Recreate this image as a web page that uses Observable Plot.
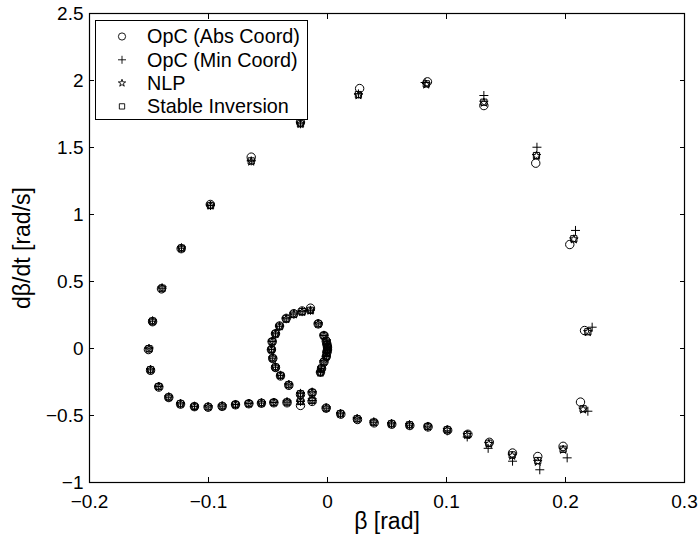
<!DOCTYPE html>
<html>
<head>
<meta charset="utf-8">
<script src="https://cdn.jsdelivr.net/npm/d3@7"></script>
<script src="https://cdn.jsdelivr.net/npm/@observablehq/plot@0.6"></script>
<style>
  html, body { margin: 0; padding: 0; background: white; }
  #wrap { position: relative; width: 699px; height: 535px; }
  #legend { position: absolute; left: 95px; top: 20px; }
</style>
</head>
<body>
<div id="wrap"></div>
<script>
// ---------- data ----------
const seriesNames = ["OpC (Abs Coord)", "OpC (Min Coord)", "NLP", "Stable Inversion"];
const xTicks = [-0.2, -0.1, 0, 0.1, 0.2, 0.3];
const yTicks = [-1, -0.5, 0, 0.5, 1, 1.5, 2, 2.5];
const xLabel = "β [rad]";
const yLabel = "dβ/dt [rad/s]";

// Stable Inversion
const siX = [0.000, 0.000, -0.0005, -0.0005, -0.001, -0.001, -0.003, -0.0078, -0.0143, -0.0213, -0.0283, -0.0347, -0.0403, -0.0437, -0.0465, -0.0471, -0.046, -0.0437, -0.0395, -0.0325, -0.0227, -0.003, -0.005, -0.0059, -0.0129, -0.0129, -0.0227, -0.034, -0.0451, -0.0555, -0.0661, -0.0773, -0.0885, -0.1003, -0.1118, -0.1235, -0.1334, -0.1418, -0.1487, -0.150, -0.147, -0.139, -0.1227, -0.0983, -0.0641, -0.0227, 0.026, 0.083, 0.1314, 0.1756, 0.207, 0.2188, 0.2148, 0.198, 0.1767, 0.1552, 0.1356, 0.1174, 0.1006, 0.0843, 0.0689, 0.0538, 0.0389, 0.0249, 0.0109, -0.0011];
const siY = [0.010, -0.010, 0.030, -0.030, 0.055, -0.060, 0.097, 0.184, 0.285, 0.275, 0.257, 0.222, 0.166, 0.110, 0.052, -0.007, -0.072, -0.139, -0.201, -0.271, -0.338, -0.100, -0.147, -0.177, -0.328, -0.388, -0.395, -0.400, -0.403, -0.407, -0.411, -0.418, -0.430, -0.436, -0.432, -0.413, -0.363, -0.284, -0.159, -0.002, 0.204, 0.450, 0.749, 1.067, 1.400, 1.677, 1.895, 1.975, 1.838, 1.440, 0.819, 0.125, -0.450, -0.752, -0.836, -0.794, -0.707, -0.642, -0.607, -0.582, -0.570, -0.562, -0.550, -0.525, -0.487, -0.445];

// NLP
const nlpX = [0.000, 0.000, -0.0005, -0.0005, -0.001, -0.001, -0.003, -0.0078, -0.0143, -0.0213, -0.0283, -0.0347, -0.0403, -0.0437, -0.0465, -0.0471, -0.046, -0.0437, -0.0395, -0.0325, -0.0227, -0.003, -0.005, -0.0059, -0.0129, -0.0129, -0.0227, -0.034, -0.0451, -0.0555, -0.0661, -0.0773, -0.0885, -0.1003, -0.1118, -0.1235, -0.1334, -0.1418, -0.1487, -0.150, -0.147, -0.139, -0.1227, -0.0983, -0.0641, -0.0227, 0.026, 0.083, 0.1314, 0.1756, 0.207, 0.2188, 0.2148, 0.198, 0.1767, 0.1552, 0.1356, 0.1174, 0.1006, 0.0843, 0.0689, 0.0538, 0.0389, 0.0249, 0.0109, -0.0011];
const nlpY = [0.010, -0.010, 0.030, -0.030, 0.055, -0.060, 0.097, 0.184, 0.283, 0.273, 0.255, 0.220, 0.165, 0.110, 0.052, -0.007, -0.072, -0.139, -0.201, -0.271, -0.338, -0.100, -0.147, -0.180, -0.330, -0.385, -0.395, -0.400, -0.403, -0.407, -0.411, -0.418, -0.430, -0.436, -0.432, -0.413, -0.363, -0.284, -0.159, -0.002, 0.204, 0.450, 0.749, 1.067, 1.395, 1.677, 1.890, 1.970, 1.835, 1.438, 0.815, 0.123, -0.455, -0.755, -0.845, -0.800, -0.712, -0.645, -0.607, -0.582, -0.570, -0.562, -0.550, -0.525, -0.487, -0.445];

// OpC (Abs Coord)
const absX = [0.000, 0.000, -0.0005, -0.0005, -0.001, -0.001, -0.003, -0.0078, -0.0143, -0.0213, -0.0283, -0.0347, -0.0403, -0.0437, -0.0465, -0.0471, -0.046, -0.0437, -0.0395, -0.0325, -0.0227, -0.003, -0.005, -0.0059, -0.0129, -0.0129, -0.0227, -0.034, -0.0451, -0.0555, -0.0661, -0.0773, -0.0885, -0.1003, -0.1118, -0.1235, -0.1334, -0.1418, -0.1487, -0.1505, -0.147, -0.1395, -0.123, -0.0985, -0.0641, -0.0227, 0.027, 0.084, 0.1314, 0.1750, 0.2036, 0.2160, 0.2126, 0.198, 0.1767, 0.1555, 0.1360, 0.1180, 0.1010, 0.0845, 0.0692, 0.0540, 0.0392, 0.0252, 0.0112, -0.0011];
const absY = [0.010, -0.010, 0.030, -0.030, 0.055, -0.060, 0.097, 0.184, 0.301, 0.280, 0.260, 0.225, 0.168, 0.110, 0.050, -0.010, -0.075, -0.142, -0.205, -0.275, -0.343, -0.100, -0.150, -0.177, -0.330, -0.395, -0.425, -0.405, -0.405, -0.408, -0.412, -0.420, -0.432, -0.438, -0.434, -0.415, -0.366, -0.288, -0.163, -0.008, 0.200, 0.445, 0.745, 1.075, 1.428, 1.690, 1.940, 1.990, 1.813, 1.383, 0.776, 0.134, -0.400, -0.730, -0.806, -0.780, -0.700, -0.640, -0.610, -0.585, -0.575, -0.565, -0.555, -0.530, -0.490, -0.445];

// OpC (Min Coord)
const minX = [0.000, 0.000, -0.0005, -0.0005, -0.001, -0.001, -0.003, -0.0078, -0.0143, -0.0213, -0.0283, -0.0347, -0.0403, -0.0437, -0.0465, -0.0471, -0.046, -0.0437, -0.0395, -0.0325, -0.0227, -0.003, -0.005, -0.0059, -0.0129, -0.0129, -0.0227, -0.034, -0.0451, -0.0555, -0.0661, -0.0773, -0.0885, -0.1003, -0.1118, -0.1235, -0.1334, -0.1418, -0.1487, -0.150, -0.147, -0.139, -0.1227, -0.0983, -0.0641, -0.0227, 0.026, 0.082, 0.1314, 0.1760, 0.2084, 0.2224, 0.2188, 0.2014, 0.1784, 0.1555, 0.1350, 0.1174, 0.1006, 0.0843, 0.0689, 0.0538, 0.0389, 0.0249, 0.0109, -0.0011];
const minY = [0.010, -0.010, 0.030, -0.030, 0.055, -0.060, 0.097, 0.184, 0.285, 0.275, 0.257, 0.222, 0.166, 0.110, 0.052, -0.007, -0.072, -0.139, -0.201, -0.271, -0.335, -0.100, -0.147, -0.177, -0.325, -0.388, -0.395, -0.400, -0.403, -0.407, -0.411, -0.418, -0.430, -0.436, -0.432, -0.413, -0.363, -0.284, -0.159, -0.002, 0.204, 0.450, 0.749, 1.067, 1.400, 1.677, 1.900, 1.985, 1.888, 1.502, 0.881, 0.159, -0.468, -0.816, -0.905, -0.841, -0.745, -0.660, -0.615, -0.585, -0.572, -0.562, -0.550, -0.525, -0.487, -0.445];

// ---------- build ----------
function rows(xs, ys, name) { return xs.map((x, i) => ({x, y: ys[i], name})); }
const absData = rows(absX, absY, seriesNames[0]);
const minData = rows(minX, minY, seriesNames[1]);
const nlpData = rows(nlpX, nlpY, seriesNames[2]);
const siData  = rows(siX, siY, seriesNames[3]);

const plusSym = {
  draw(ctx, size) {
    const r = Math.sqrt(size / Math.PI);
    ctx.moveTo(-r, 0); ctx.lineTo(r, 0);
    ctx.moveTo(0, -r); ctx.lineTo(0, r);
  }
};

const fmt = d => (d < 0 ? "\u2212" : "") + String(Math.abs(+d.toFixed(2)));
const font = '"Liberation Sans", Arial, Helvetica, sans-serif';
const dotOpts = {x: "x", y: "y", fill: "none", stroke: "black", strokeWidth: 1};
const rAbs = 4.2, rMin = 4.5, rNlp = 2.7, rSi = 3.5;

const chart = Plot.plot({
  width: 699,
  height: 535,
  marginLeft: 89,
  marginRight: 15,
  marginTop: 13,
  marginBottom: 53,
  style: {fontFamily: font, fontSize: "19px", color: "black", background: "white"},
  x: {domain: [-0.2, 0.3], label: null},
  y: {domain: [-1, 2.5], label: null},
  marks: [
    Plot.axisX(xTicks, {anchor: "bottom", tickSize: -5, tickPadding: 17, tickFormat: fmt, fontSize: 19, label: null}),
    Plot.axisX(xTicks, {anchor: "top", tickSize: -5, tickFormat: () => "", label: null}),
    Plot.axisY(yTicks, {anchor: "left", tickSize: -5, tickPadding: 11, tickFormat: fmt, fontSize: 19, label: null}),
    Plot.axisY(yTicks, {anchor: "right", tickSize: -5, tickFormat: () => "", label: null}),
    Plot.frame({stroke: "black", strokeWidth: 1.2}),
    Plot.dot(absData, {...dotOpts, symbol: "circle", r: rAbs}),
    Plot.dot(minData, {...dotOpts, symbol: plusSym, r: rMin}),
    Plot.dot(nlpData, {...dotOpts, symbol: "star", r: rNlp}),
    Plot.dot(siData, {...dotOpts, symbol: "square", r: rSi}),
    Plot.text([xLabel], {frameAnchor: "bottom", dy: 39, fontSize: 23, textAnchor: "middle", lineAnchor: "middle", text: d => d}),
    Plot.text([yLabel], {frameAnchor: "left", dx: -67, rotate: -90, fontSize: 23, textAnchor: "middle", lineAnchor: "middle", text: d => d})
  ]
});
document.getElementById("wrap").appendChild(chart);

// ---------- legend ----------
const legW = 212, legH = 99;
const leg = d3.select("#wrap").append("svg")
  .attr("id", "legend")
  .attr("width", legW + 1).attr("height", legH + 1)
  .style("font-family", font);
leg.append("rect").attr("x", 0.5).attr("y", 0.5).attr("width", legW).attr("height", legH)
  .attr("fill", "white").attr("stroke", "black").attr("stroke-width", 1);
const legSymbols = [d3.symbolCircle, plusSym, d3.symbolStar, d3.symbolSquare];
const legSizes = [Math.PI * 3.6 * 3.6, Math.PI * 4 * 4, Math.PI * 2.3 * 2.3, Math.PI * 3 * 3];
seriesNames.forEach((name, i) => {
  const cy = 16.5 + i * 23.3;
  leg.append("path")
    .attr("transform", `translate(27,${cy})`)
    .attr("d", d3.symbol(legSymbols[i], legSizes[i])())
    .attr("fill", "none").attr("stroke", "black").attr("stroke-width", 0.9);
  leg.append("text")
    .attr("x", 52).attr("y", cy).attr("dy", "0.35em")
    .attr("font-size", 19.8).attr("fill", "black")
    .text(name);
});
</script>
</body>
</html>
